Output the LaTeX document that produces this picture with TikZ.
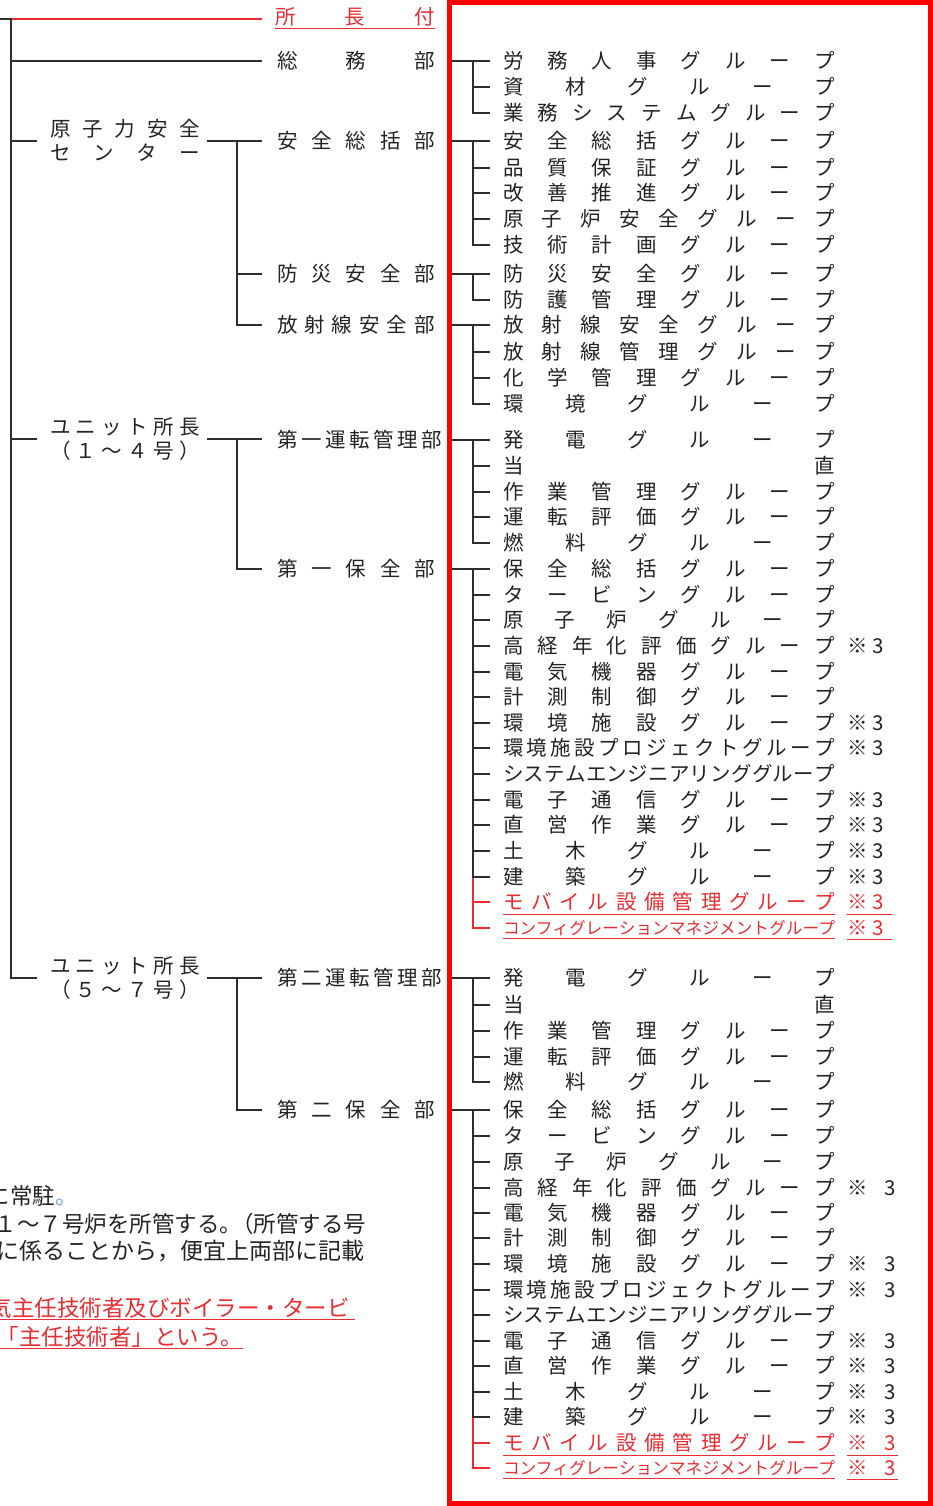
\documentclass[tikz,border=0pt]{standalone}
\usepackage{fontspec}
\setmainfont{Noto Sans CJK JP}
\usepackage{graphicx}
\definecolor{txt}{RGB}{35,35,35}
\definecolor{rtxt}{RGB}{232,45,50}
\definecolor{boxred}{RGB}{255,0,0}
\definecolor{dotblue}{RGB}{110,160,220}
\makeatletter
\def\spr@next#1{\ifx#1\relax\else\hfill#1\expandafter\spr@next\fi}
\def\spr@first#1{#1\spr@next}
\newcommand\jstrut{\rule[-0.12em]{0pt}{1em}}
\newcommand\spreadtext[2]{\hbox to #1{\jstrut\spr@first#2\relax}}
\makeatother
\newcommand\grpnode[4][]{\node[#1] (#2) at (503,#3) {\spreadtext{332pt}{#4}};}
\newcommand\mkA[3][]{\node[#1] (#2) at (847,#3) {\jstrut ※\kern5pt 3};}
\newcommand\mkB[3][]{\node[#1] (#2) at (847,#3) {\jstrut ※\kern17pt 3};}
\newcommand\grptree[4]{%
  \draw[conn, shorten <=3pt, shorten >=13pt] (#1.east -| box.west) -- (#1.east -| #2.west);
  \draw[conn, shorten >=13pt] (#1.east -| vx) |- (#3.west);
  \foreach \mm in {#4} {\draw[conn, shorten >=13pt] (\mm.west -| vx) -- (\mm.west);}
}
\begin{document}
\begin{tikzpicture}[x=1pt,y=-1pt,
  every node/.style={inner sep=0pt, outer sep=0pt, anchor=west, text=txt,
    font=\fontsize{20.5}{24}\selectfont},
  conn/.style={draw=black!82, line width=1.5pt},
  rconn/.style={draw=rtxt, line width=1.1pt},
  rgrp/.style={text=rtxt},
  uline/.style={draw=rtxt, line width=0.9pt},
  note/.style={font=\fontsize{22.5}{24}\selectfont}]
\useasboundingbox (0,0) rectangle (933,1506);
\clip (0,0) rectangle (933,1506);

% red frame
\node[draw=boxred, line width=5pt, minimum width=481.5pt, minimum height=1501pt, anchor=north west] (box) at (449,2.5) {};
\coordinate (vx) at (473,0);

% ---------- left column ----------
\node[rgrp] (s0) at (275,17) {\spreadtext{160pt}{所長付}};
\draw[uline] ([yshift=-1.5pt]s0.south west) -- ([yshift=-1.5pt]s0.south east);
\node (d1) at (277,61) {\spreadtext{158pt}{総務部}};
\node[align=left] (c1) at (50,141) {\spreadtext{150pt}{原子力安全}\\\spreadtext{150pt}{センター}};
\node (d2) at (277,141) {\spreadtext{158pt}{安全総括部}};
\node (d3) at (277,274) {\spreadtext{158pt}{防災安全部}};
\node (d4) at (277,325) {\spreadtext{158pt}{放射線安全部}};
\node[align=left] (c2) at (50,439) {\spreadtext{150pt}{ユニット所長}\\\spreadtext{150pt}{（１～４号）}};
\node (d5) at (277,440) {\spreadtext{165pt}{第一運転管理部}};
\node (d6) at (277,569) {\spreadtext{158pt}{第一保全部}};
\node[align=left] (c3) at (50,978) {\spreadtext{150pt}{ユニット所長}\\\spreadtext{150pt}{（５～７号）}};
\node (d7) at (277,978) {\spreadtext{165pt}{第二運転管理部}};
\node (d8) at (277,1110) {\spreadtext{158pt}{第二保全部}};

\coordinate (r0) at (0,19);
\coordinate (root) at (11,19);
\draw[rconn, shorten >=13pt] (root) -- (root -| s0.west);
\draw[conn, shorten >=13pt] (r0) -- (root) |- (c3.west);
\draw[conn, shorten >=15pt] (root |- d1.west) -- (d1.west);
\draw[conn, shorten >=13pt] (root |- c1.west) -- (c1.west);
\draw[conn, shorten >=13pt] (root |- c2.west) -- (c2.west);

\draw[conn, shorten <=7pt, shorten >=15pt] (c1.east) -- (c1.east -| d2.west);
\coordinate (j1) at ([xshift=-40pt]d2.west);
\draw[conn, shorten >=15pt] (j1) |- (d4.west);
\draw[conn, shorten >=15pt] (j1 |- d3.west) -- (d3.west);

\draw[conn, shorten <=7pt, shorten >=15pt] (c2.east) -- (c2.east -| d5.west);
\coordinate (j2) at ([xshift=-40pt]d5.west);
\draw[conn, shorten >=15pt] (j2) |- (d6.west);

\draw[conn, shorten <=7pt, shorten >=15pt] (c3.east) -- (c3.east -| d7.west);
\coordinate (j3) at ([xshift=-40pt]d7.west);
\draw[conn, shorten >=15pt] (j3) |- (d8.west);

% ---------- right column ----------
\grpnode{r1}{61}{労務人事グループ}
\grpnode{r2}{87}{資材グループ}
\grpnode{r3}{113}{業務システムグループ}
\grpnode{r4}{141}{安全総括グループ}
\grpnode{r5}{168}{品質保証グループ}
\grpnode{r6}{193}{改善推進グループ}
\grpnode{r7}{219}{原子炉安全グループ}
\grpnode{r8}{245}{技術計画グループ}
\grpnode{r9}{274}{防災安全グループ}
\grpnode{r10}{300}{防護管理グループ}
\grpnode{r11}{325}{放射線安全グループ}
\grpnode{r12}{352}{放射線管理グループ}
\grpnode{r13}{378}{化学管理グループ}
\grpnode{r14}{404}{環境グループ}
\grpnode{r15}{440}{発電グループ}
\grpnode{r16}{466}{当直}
\grpnode{r17}{492}{作業管理グループ}
\grpnode{r18}{517}{運転評価グループ}
\grpnode{r19}{543}{燃料グループ}
\grpnode{r20}{569}{保全総括グループ}
\grpnode{r21}{595}{タービングループ}
\grpnode{r22}{620}{原子炉グループ}
\grpnode{r23}{646}{高経年化評価グループ}
\grpnode{r24}{672}{電気機器グループ}
\grpnode{r25}{697}{計測制御グループ}
\grpnode{r26}{723}{環境施設グループ}
\grpnode{r27}{748}{環境施設プロジェクトグループ}
\grpnode{r28}{774}{システムエンジニアリンググループ}
\grpnode{r29}{800}{電子通信グループ}
\grpnode{r30}{825}{直営作業グループ}
\grpnode{r31}{851}{土木グループ}
\grpnode{r32}{877}{建築グループ}
\grpnode[rgrp]{r33}{902}{モバイル設備管理グループ}
\node[rgrp] (r34) at (503,928) {\resizebox{332pt}{!}{\jstrut コンフィグレーションマネジメントグループ}};

\mkA{n23}{646}
\mkA{n26}{723}
\mkA{n27}{748}
\mkA{n29}{800}
\mkA{n30}{825}
\mkA{n31}{851}
\mkA{n32}{877}
\mkA[rgrp]{n33}{902}
\mkA[rgrp]{n34}{928}
\draw[uline] ([yshift=-2pt]r33.south west) -- ([yshift=-2pt]r33.south east);
\draw[uline] ([yshift=-2pt]r34.south west) -- ([yshift=-2pt]r34.south east);
\draw[uline] ([yshift=-2pt]n33.south west) -- ++(45pt,0);
\draw[uline] ([yshift=-1.5pt]n34.south west) -- ++(45pt,0);

\grpnode{r35}{978}{発電グループ}
\grpnode{r36}{1005}{当直}
\grpnode{r37}{1031}{作業管理グループ}
\grpnode{r38}{1057}{運転評価グループ}
\grpnode{r39}{1082}{燃料グループ}
\grpnode{r40}{1110}{保全総括グループ}
\grpnode{r41}{1136}{タービングループ}
\grpnode{r42}{1162}{原子炉グループ}
\grpnode{r43}{1188}{高経年化評価グループ}
\grpnode{r44}{1213}{電気機器グループ}
\grpnode{r45}{1238}{計測制御グループ}
\grpnode{r46}{1264}{環境施設グループ}
\grpnode{r47}{1290}{環境施設プロジェクトグループ}
\grpnode{r48}{1315}{システムエンジニアリンググループ}
\grpnode{r49}{1341}{電子通信グループ}
\grpnode{r50}{1366}{直営作業グループ}
\grpnode{r51}{1392}{土木グループ}
\grpnode{r52}{1417}{建築グループ}
\grpnode[rgrp]{r53}{1443}{モバイル設備管理グループ}
\node[rgrp] (r54) at (503,1468) {\resizebox{332pt}{!}{\jstrut コンフィグレーションマネジメントグループ}};

\mkB{n43}{1188}
\mkB{n46}{1264}
\mkB{n47}{1290}
\mkB{n49}{1341}
\mkB{n50}{1366}
\mkB{n51}{1392}
\mkB{n52}{1417}
\mkB[rgrp]{n53}{1443}
\mkB[rgrp]{n54}{1468}
\draw[uline] ([yshift=-2pt]r53.south west) -- ([yshift=-2pt]r53.south east);
\draw[uline] ([yshift=-2pt]r54.south west) -- ([yshift=-2pt]r54.south east);
\draw[uline] ([yshift=-2pt]n53.south west) -- ++(51pt,0);
\draw[uline] ([yshift=-1.5pt]n54.south west) -- ++(51pt,0);

% connectors to groups
\grptree{d1}{r1}{r3}{r2}
\grptree{d2}{r4}{r8}{r5,r6,r7}
\draw[conn, shorten <=3pt, shorten >=13pt] (d3.east -| box.west) -- (d3.east -| r9.west);
\draw[conn, shorten >=13pt] (d3.east -| vx) |- (r10.west);
\grptree{d4}{r11}{r14}{r12,r13}
\grptree{d5}{r15}{r19}{r16,r17,r18}
\draw[rconn, shorten >=13pt] (r32.west -| vx) |- (r34.west);
\draw[rconn, shorten >=13pt] (r33.west -| vx) -- (r33.west);
\grptree{d6}{r20}{r32}{r21,r22,r23,r24,r25,r26,r27,r28,r29,r30,r31}
\grptree{d7}{r35}{r39}{r36,r37,r38}
\draw[rconn, shorten >=13pt] (r52.west -| vx) |- (r54.west);
\draw[rconn, shorten >=13pt] (r53.west -| vx) -- (r53.west);
\grptree{d8}{r40}{r52}{r41,r42,r43,r44,r45,r46,r47,r48,r49,r50,r51}

% ---------- notes (cut at the left edge) ----------
\node[note] (t1) at (-12.5,1196) {\jstrut に常駐\textcolor{dotblue}{。}};
\node[note, anchor=east] (t2) at (366,1224) {\jstrut １～７号炉を所管する。\kern-0.5em（所管する号};
\node[note, anchor=east, font=\fontsize{23}{24}\selectfont] (t3) at (364,1251) {\jstrut に係ることから，便宜上両部に記載};
\node[note, anchor=east, text=rtxt] (t4) at (350,1308) {\jstrut 気主任技術者及びボイラー・タービ};
\node[note, anchor=east, text=rtxt] (t5) at (243,1337) {\jstrut 「主任技術者」という。};
\draw[uline] (0,1319) -- (355,1319);
\draw[uline] (0,1348) -- (243,1348);
\end{tikzpicture}
\end{document}
